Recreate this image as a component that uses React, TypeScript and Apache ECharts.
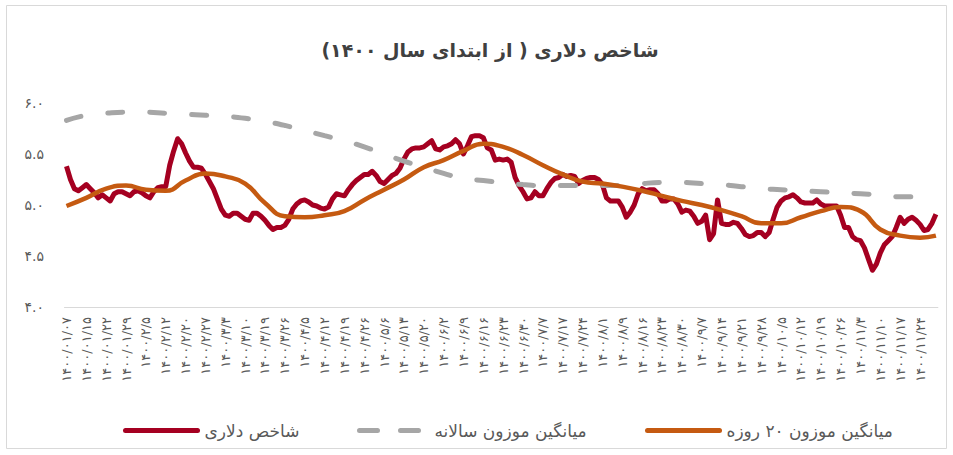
import React, { useEffect, useRef } from "react";
import * as echarts from "echarts";

const tickLabels = [
  "۱۴۰۰/۰۱/۰۷", "۱۴۰۰/۰۱/۱۵", "۱۴۰۰/۰۱/۲۲", "۱۴۰۰/۰۱/۲۹", "۱۴۰۰/۲/۵", "۱۴۰۰/۲/۱۲",
  "۱۴۰۰/۲/۲۰", "۱۴۰۰/۲/۲۷", "۱۴۰۰/۳/۳", "۱۴۰۰/۳/۱۰", "۱۴۰۰/۳/۱۹", "۱۴۰۰/۳/۲۶",
  "۱۴۰۰/۴/۵", "۱۴۰۰/۴/۱۲", "۱۴۰۰/۴/۱۹", "۱۴۰۰/۴/۲۶", "۱۴۰۰/۵/۶", "۱۴۰۰/۵/۱۳",
  "۱۴۰۰/۵/۲۰", "۱۴۰۰/۶/۲", "۱۴۰۰/۶/۹", "۱۴۰۰/۶/۱۶", "۱۴۰۰/۶/۲۳", "۱۴۰۰/۶/۳۰",
  "۱۴۰۰/۷/۷", "۱۴۰۰/۷/۱۷", "۱۴۰۰/۷/۲۴", "۱۴۰۰/۸/۱", "۱۴۰۰/۸/۹", "۱۴۰۰/۸/۱۶",
  "۱۴۰۰/۸/۲۳", "۱۴۰۰/۸/۳۰", "۱۴۰۰/۹/۷", "۱۴۰۰/۹/۱۴", "۱۴۰۰/۹/۲۱", "۱۴۰۰/۹/۲۸",
  "۱۴۰۰/۱۰/۵", "۱۴۰۰/۱۰/۱۲", "۱۴۰۰/۱۰/۱۹", "۱۴۰۰/۱۰/۲۶", "۱۴۰۰/۱۱/۳", "۱۴۰۰/۱۱/۱۰",
  "۱۴۰۰/۱۱/۱۷", "۱۴۰۰/۱۱/۲۴",
];

// daily dollar index (one value per trading day)
const dollarIndex = [
  5.38, 5.25, 5.16, 5.14, 5.17, 5.20, 5.16, 5.12, 5.07, 5.10,
  5.07, 5.04, 5.11, 5.13, 5.13, 5.11, 5.09, 5.13, 5.14, 5.12,
  5.09, 5.07, 5.13, 5.17, 5.18, 5.18, 5.39, 5.53, 5.65, 5.60,
  5.51, 5.43, 5.37, 5.37, 5.36, 5.30, 5.23, 5.16, 5.06, 4.96,
  4.90, 4.89, 4.92, 4.92, 4.89, 4.86, 4.85, 4.92, 4.92, 4.89,
  4.85, 4.80, 4.76, 4.78, 4.78, 4.80, 4.86, 4.96, 5.01, 5.04,
  5.05, 5.03, 5.00, 4.99, 4.97, 4.96, 4.98, 5.06, 5.11, 5.10,
  5.09, 5.15, 5.20, 5.24, 5.27, 5.30, 5.30, 5.33, 5.29, 5.23,
  5.21, 5.25, 5.29, 5.31, 5.36, 5.45, 5.52, 5.55, 5.56, 5.56,
  5.57, 5.60, 5.63, 5.55, 5.54, 5.57, 5.58, 5.60, 5.64, 5.60,
  5.50, 5.58, 5.67, 5.68, 5.68, 5.66, 5.56, 5.54, 5.44, 5.45,
  5.44, 5.45, 5.42, 5.27, 5.19, 5.13, 5.06, 5.07, 5.13, 5.09,
  5.09, 5.16, 5.22, 5.26, 5.27, 5.30, 5.28, 5.29, 5.28, 5.21,
  5.24, 5.26, 5.27, 5.27, 5.25, 5.20, 5.07, 5.04, 5.04, 5.04,
  4.98, 4.88, 4.93, 5.00, 5.11, 5.16, 5.14, 5.15, 5.15, 5.11,
  5.04, 5.04, 5.06, 5.06, 5.01, 4.93, 4.95, 4.94, 4.89, 4.82,
  4.84, 4.90, 4.66, 4.72, 5.05, 4.82, 4.81, 4.81, 4.83, 4.82,
  4.77, 4.71, 4.69, 4.70, 4.73, 4.73, 4.69, 4.73, 4.86, 4.98,
  5.04, 5.07, 5.08, 5.10, 5.07, 5.03, 5.02, 5.02, 5.02, 5.05,
  5.01, 4.99, 4.99, 4.99, 4.99, 4.90, 4.78, 4.78, 4.69, 4.66,
  4.65, 4.58, 4.47, 4.36, 4.42, 4.53, 4.61, 4.65, 4.69, 4.78,
  4.88, 4.82, 4.86, 4.88, 4.85, 4.81, 4.75, 4.76, 4.82, 4.91,
];

// moving averages read at every labelled day (every 5th trading day) and the last day
const ma20 = [
  4.99, 5.07, 5.16, 5.19, 5.15, 5.14, 5.24, 5.31, 5.28, 5.21,
  5.02, 4.89, 4.88, 4.90, 4.94, 5.05, 5.15, 5.25, 5.37, 5.44,
  5.53, 5.60, 5.57, 5.49, 5.39, 5.30, 5.23, 5.21, 5.18, 5.14,
  5.09, 5.04, 5.00, 4.95, 4.89, 4.82, 4.82, 4.88, 4.94, 4.98,
  4.94, 4.76, 4.70, 4.68, 4.70,
];
const maAnnual = [
  5.83, 5.88, 5.90, 5.91, 5.91, 5.90, 5.89, 5.88, 5.87, 5.85,
  5.82, 5.78, 5.73, 5.68, 5.63, 5.57, 5.50, 5.43, 5.37, 5.31,
  5.26, 5.24, 5.22, 5.20, 5.19, 5.19, 5.19, 5.19, 5.19, 5.21,
  5.22, 5.22, 5.21, 5.20, 5.18, 5.16, 5.15, 5.14, 5.13, 5.12,
  5.11, 5.10, 5.08, 5.08, 5.08,
];

const seriesNames = ["شاخص دلاری", "میانگین موزون سالانه", "میانگین موزون ۲۰ روزه"];
const seriesColors = ["#A50021", "#A6A6A6", "#C55A11"];
const titleText = "شاخص دلاری ( از ابتدای سال ۱۴۰۰)";

const LABEL_STEP = 5;
const N = dollarIndex.length;
const categories = dollarIndex.map((_, i) =>
  i % LABEL_STEP === 0 ? tickLabels[i / LABEL_STEP] : tickLabels[Math.floor(i / LABEL_STEP)] + "#" + (i % LABEL_STEP)
);
const sampleIdx = [...tickLabels.map((_, k) => k * LABEL_STEP), N - 1];
function sparse(vals: number[]) {
  const out: (number | null)[] = new Array(N).fill(null);
  sampleIdx.forEach((idx, k) => (out[idx] = vals[k]));
  return out;
}

const faDigits = "۰۱۲۳۴۵۶۷۸۹";
const toFa = (s: string) => s.replace(/[0-9]/g, (d) => faDigits[+d]);
const FONT = "DejaVu Sans";

const legendLefts = [118, 352, 640];
const legendWidths = [72, 68, 72];

export default function App() {
  const ref = useRef<HTMLDivElement>(null);
  useEffect(() => {
    const chart = echarts.init(ref.current!, null, { renderer: "svg" });
    chart.setOption({
      animation: false,
      backgroundColor: "#ffffff",
      graphic: [
        {
          type: "rect",
          shape: { x: 6.5, y: 5.5, width: 940, height: 443 },
          style: { fill: "none", stroke: "#d9d9d9", lineWidth: 1 },
          silent: true,
        },
        {
          type: "text",
          x: 490,
          y: 50,
          style: {
            text: titleText,
            font: `bold 19px "${FONT}"`,
            fill: "#404040",
            textAlign: "center",
            textVerticalAlign: "middle",
          },
        },
      ],
      legend: seriesNames.map((name, k) => ({
        left: legendLefts[k],
        top: 417,
        itemWidth: legendWidths[k],
        itemHeight: 14,
        itemGap: 0,
        data: [name],
        itemStyle: { opacity: 0 },
        lineStyle: k === 1 ? { width: 5, type: [18, 23], cap: "round" } : { width: 5, cap: "round" },
        textStyle: { fontSize: 17, color: "#595959", fontFamily: FONT, padding: [0, 0, 0, 2] },
      })),
      grid: { left: 64.5, top: 103, width: 873.4, height: 204 },
      xAxis: {
        type: "category",
        data: categories,
        boundaryGap: true,
        axisLine: { lineStyle: { color: "#d9d9d9", width: 1 } },
        axisTick: { show: false },
        axisLabel: {
          interval: LABEL_STEP - 1,
          rotate: 90,
          margin: 10,
          fontSize: 13,
          color: "#595959",
          fontFamily: FONT,
        },
        splitLine: { show: false },
      },
      yAxis: {
        type: "value",
        min: 4,
        max: 6,
        interval: 0.5,
        axisLine: { show: false },
        axisTick: { show: false },
        splitLine: { show: false },
        axisLabel: {
          align: "left",
          margin: 40,
          fontSize: 14,
          color: "#595959",
          fontFamily: FONT,
          formatter: (v: number) => toFa(v.toFixed(1)),
        },
      },
      series: [
        {
          name: seriesNames[0],
          type: "line",
          data: dollarIndex,
          symbol: "none",
          lineStyle: { color: seriesColors[0], width: 5, join: "round" },
          itemStyle: { color: seriesColors[0] },
        },
        {
          name: seriesNames[1],
          type: "line",
          data: sparse(maAnnual),
          connectNulls: true,
          smooth: true,
          symbol: "none",
          lineStyle: { color: seriesColors[1], width: 5, type: [15, 27], cap: "round" },
          itemStyle: { color: seriesColors[1] },
        },
        {
          name: seriesNames[2],
          type: "line",
          data: sparse(ma20),
          connectNulls: true,
          smooth: true,
          symbol: "none",
          lineStyle: { color: seriesColors[2], width: 4.5 },
          itemStyle: { color: seriesColors[2] },
        },
      ],
    });
    return () => chart.dispose();
  }, []);
  return (
    <div
      ref={ref}
      style={{ position: "absolute", left: 0, top: 0, width: 953, height: 455 }}
    />
  );
}
